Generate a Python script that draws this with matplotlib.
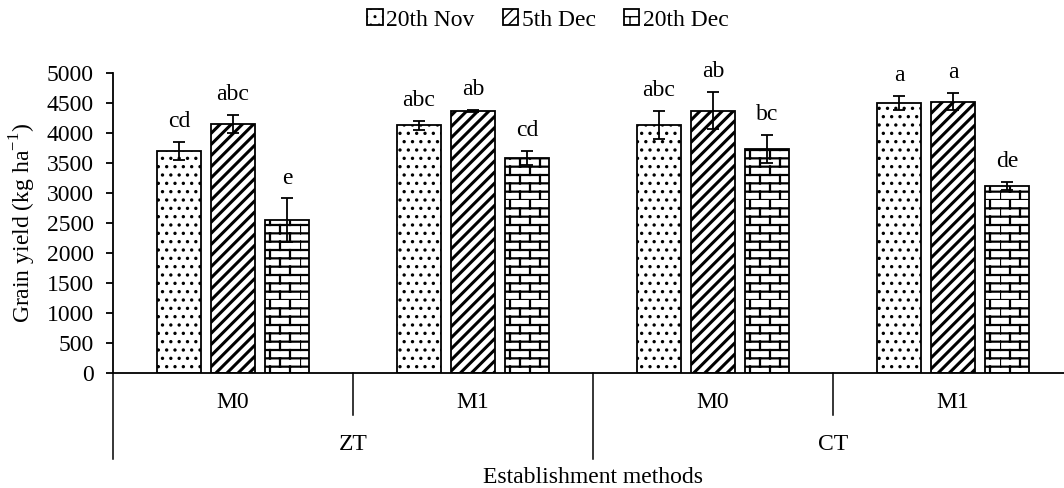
import warnings
import numpy as np
import matplotlib
matplotlib.use('Agg')
import matplotlib.pyplot as plt
import matplotlib.hatch as mhatch
from matplotlib.path import Path

warnings.filterwarnings('ignore')

# data
tillage = ['ZT', 'CT']
mulch = ['M0', 'M1', 'M0', 'M1']
dates = ['20th Nov', '5th Dec', '20th Dec']
yield_nov20 = [3700, 4130, 4130, 4500]
yield_dec05 = [4150, 4370, 4370, 4520]
yield_dec20 = [2550, 3580, 3735, 3115]
err_nov20 = [150, 75, 230, 115]
err_dec05 = [150, 20, 310, 140]
err_dec20 = [360, 115, 235, 70]
let_nov20 = ['cd', 'abc', 'abc', 'a']
let_dec05 = ['abc', 'ab', 'ab', 'a']
let_dec20 = ['e', 'cd', 'bc', 'de']


# brick-wall hatch, not built into matplotlib
class BrickHatch(mhatch.HatchPatternBase):
    def __init__(self, hatch, density):
        n = hatch.count('b')
        self.rows = 12 if n else 0
        self.cols = 5
        self.num_vertices = self.rows * 2 + self.rows * self.cols * 2

    def set_vertices_and_codes(self, vertices, codes):
        i = 0
        for r in range(self.rows):
            y = r / self.rows
            vertices[i] = (0, y); vertices[i + 1] = (1, y)
            codes[i] = Path.MOVETO; codes[i + 1] = Path.LINETO
            i += 2
            for c in range(self.cols):
                x = (c + 0.5 * (r % 2)) / self.cols
                vertices[i] = (x, y); vertices[i + 1] = (x, y + 1 / self.rows)
                codes[i] = Path.MOVETO; codes[i + 1] = Path.LINETO
                i += 2


mhatch._hatch_types.append(BrickHatch)

plt.rcParams['font.family'] = ['Liberation Serif', 'DejaVu Serif']
plt.rcParams['mathtext.fontset'] = 'custom'
plt.rcParams['mathtext.rm'] = 'Liberation Serif'
plt.rcParams['font.size'] = 17

fig = plt.figure(figsize=(10.64, 4.88), dpi=100)
ax = fig.add_axes([113 / 1064, 115 / 488, 960 / 1064, 300 / 488])

x = np.arange(len(mulch))
w = 0.18
off = 0.225
series = [(yield_nov20, err_nov20, let_nov20, '..', 1.2),
          (yield_dec05, err_dec05, let_dec05, '///', 2.2),
          (yield_dec20, err_dec20, let_dec20, 'b', 1.6)]

for k, (vals, errs, lets, hatch, hlw) in enumerate(series):
    pos = x + (k - 1) * off
    with plt.rc_context({'hatch.linewidth': hlw}):
        ax.bar(pos, vals, w, color='white', edgecolor='black', linewidth=1.3,
               hatch=hatch, label=dates[k], zorder=2)
    ax.errorbar(pos, vals, yerr=errs, fmt='none', ecolor='black',
                elinewidth=1.3, capsize=4, capthick=1.3, zorder=3)
    for p, v, e, t in zip(pos, vals, errs, lets):
        ax.text(p, v + e + 340, t, ha='center', va='center')

ax.set_ylim(0, 5000)
ax.set_yticks(np.arange(0, 5001, 500))
ax.set_xlim(-0.5, 3.5)
ax.set_xticks([])
ax.spines['top'].set_visible(False)
ax.spines['right'].set_visible(False)
ax.spines['left'].set_linewidth(1.3)
ax.spines['bottom'].set_linewidth(1.3)
ax.tick_params(axis='y', direction='out', length=5, width=1.3, pad=9)
ax.set_ylabel('Grain yield (kg ha$^{\\mathrm{-1}}$)', labelpad=6)

# two-tier category axis
tr = ax.get_xaxis_transform()
for b in [0.5, 2.5]:
    ax.plot([b, b], [0, -0.14], color='black', lw=1.1, transform=tr, clip_on=False)
for b in [-0.5, 1.5, 3.5]:
    ax.plot([b, b], [0, -0.285], color='black', lw=1.1, transform=tr, clip_on=False)
for xi, m in zip(x, mulch):
    ax.text(xi, -0.097, m, ha='center', va='center', transform=tr)
for j, t in enumerate(tillage):
    ax.text(2 * j + 0.5, -0.24, t, ha='center', va='center', transform=tr)
ax.text(1.5, -0.347, 'Establishment methods', ha='center', va='center', transform=tr)

fig.legend(loc='center', bbox_to_anchor=(548 / 1064, 1 - 20 / 488), ncol=3,
           frameon=False, handlelength=0.65, handleheight=0.65,
           handletextpad=0.15, columnspacing=1.2, borderaxespad=0)

fig.savefig('out.png', dpi=100)
